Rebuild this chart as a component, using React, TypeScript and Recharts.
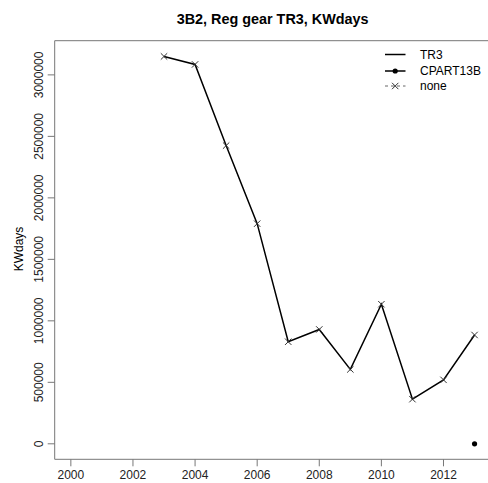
import { LineChart, Line, XAxis, YAxis, ReferenceArea, Legend, Label } from 'recharts';

const YEARS = [2003, 2004, 2005, 2006, 2007, 2008, 2009, 2010, 2011, 2012, 2013];
const TR3 = [3150000, 3085000, 2425000, 1790000, 830000, 930000, 605000, 1135000, 363000, 520000, 885000];
const CPART13B_YEARS = [2013];
const CPART13B = [0];
const X_TICKS = [2000, 2002, 2004, 2006, 2008, 2010, 2012];
const Y_TICKS = [0, 500000, 1000000, 1500000, 2000000, 2500000, 3000000];

const X_DOMAIN = [1999.48, 2013.52];
const Y_DOMAIN = [-126000, 3278000];

const FONT = '"Liberation Sans", Arial, sans-serif';
const BOX = '#777';

const data = YEARS.map((year, i) => {
  const k = CPART13B_YEARS.indexOf(year);
  return { year, tr3: TR3[i], cpart: k >= 0 ? CPART13B[k] : undefined };
});

function Cross({ cx, cy, key }: any) {
  if (cx == null || cy == null) return <g key={key} />;
  const s = 3.2;
  return (
    <path
      key={key}
      d={`M${cx - s},${cy - s}L${cx + s},${cy + s}M${cx - s},${cy + s}L${cx + s},${cy - s}`}
      stroke="#333"
      strokeWidth={1}
      fill="none"
    />
  );
}

function YTick({ x, y, payload }: any) {
  const bx = x - 4.2;
  return (
    <text x={bx} y={y} transform={`rotate(-90, ${bx}, ${y})`} textAnchor="middle" fontSize={12} fill="#222" fontFamily={FONT}>
      {String(payload.value)}
    </text>
  );
}

function LegendBox() {
  const rows = [
    { y: 7.5, label: 'TR3', dash: undefined, mark: null as string | null },
    { y: 24, label: 'CPART13B', dash: undefined, mark: 'dot' },
    { y: 39, label: 'none', dash: '3 3', mark: 'cross' },
  ];
  return (
    <svg width={100} height={48} style={{ display: 'block', overflow: 'visible' }}>
      {rows.map((r) => (
        <g key={r.label}>
          <line x1={0} x2={20.5} y1={r.y} y2={r.y} stroke={r.dash ? '#666' : '#000'} strokeWidth={r.dash ? 1 : 1.5} strokeDasharray={r.dash} />
          {r.mark === 'dot' && <circle cx={10.2} cy={r.y} r={2.6} fill="#000" />}
          {r.mark === 'cross' && Cross({ cx: 10.2, cy: r.y, key: 'c' })}
          <text x={35} y={r.y + 4.3} fontSize={12} fill="#000" fontFamily={FONT}>{r.label}</text>
        </g>
      ))}
    </svg>
  );
}

export default function App() {
  return (
    <div style={{ position: 'absolute', left: 0, top: 0, width: 488, height: 483, overflow: 'hidden', background: '#fff' }}>
      <LineChart width={491} height={483} data={data} margin={{ top: 40.7, right: 0.3, left: 0, bottom: 0 }} style={{ fontFamily: FONT }}>
        <XAxis
          type="number"
          dataKey="year"
          domain={X_DOMAIN}
          ticks={X_TICKS}
          interval={0}
          allowDataOverflow
          axisLine={false}
          tickLine={{ stroke: BOX }}
          tickSize={7}
          tickMargin={4.5}
          height={23.7}
          tick={{ fontSize: 12, fill: '#222', fontFamily: FONT }}
        >
          <Label
            content={() => (
              <text x={272.6} y={24} textAnchor="middle" fontSize={14.4} fontWeight="bold" fill="#000" fontFamily={FONT}>
                3B2, Reg gear TR3, KWdays
              </text>
            )}
          />
        </XAxis>
        <YAxis
          type="number"
          domain={Y_DOMAIN}
          ticks={Y_TICKS}
          interval={0}
          allowDataOverflow
          axisLine={false}
          tickLine={{ stroke: BOX }}
          tickSize={7}
          tickMargin={0}
          width={54.7}
          tick={<YTick />}
        >
          <Label
            content={() => (
              <text x={22.5} y={249} transform="rotate(-90, 22.5, 249)" textAnchor="middle" fontSize={12} fill="#000" fontFamily={FONT}>
                KWdays
              </text>
            )}
          />
        </YAxis>
        <ReferenceArea
          x1={X_DOMAIN[0]}
          x2={X_DOMAIN[1]}
          y1={Y_DOMAIN[0]}
          y2={Y_DOMAIN[1]}
          fill="none"
          stroke={BOX}
          strokeWidth={1}
          ifOverflow="visible"
        />
        <Line
          dataKey="tr3"
          stroke="#000"
          strokeWidth={1.5}
          dot={Cross}
          activeDot={false}
          isAnimationActive={false}
        />
        <Line
          dataKey="cpart"
          stroke="none"
          dot={{ r: 2.6, fill: '#000', stroke: '#000', strokeWidth: 0 }}
          activeDot={false}
          isAnimationActive={false}
        />
        <Legend
          layout="horizontal"
          verticalAlign="middle"
          content={() => <LegendBox />}
          wrapperStyle={{ top: 47, left: 385, width: 100, height: 48 }}
        />
      </LineChart>
    </div>
  );
}
